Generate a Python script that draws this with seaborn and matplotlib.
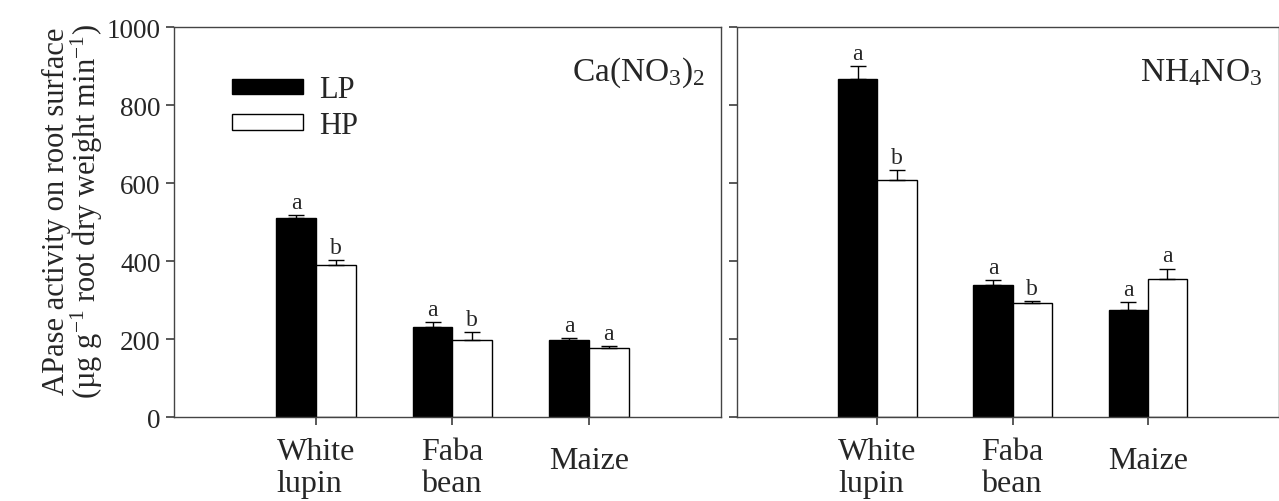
import numpy as np
import pandas as pd
import matplotlib
matplotlib.use("Agg")
import matplotlib.pyplot as plt
import matplotlib.transforms as mtransforms
import seaborn as sns
from matplotlib.patches import Patch

crops = ["White\nlupin", "Faba\nbean", "Maize"]
levels = ["LP", "HP"]

# Ca(NO3)2 panel
ca_lp = [510, 231, 198]
ca_hp = [390, 197, 177]
ca_lp_err = [8, 13, 5]
ca_hp_err = [13, 21, 5]
ca_lp_sig = ["a", "a", "a"]
ca_hp_sig = ["b", "b", "a"]

# NH4NO3 panel
nh_lp = [867, 339, 275]
nh_hp = [608, 292, 355]
nh_lp_err = [33, 12, 20]
nh_hp_err = [26, 6, 26]
nh_lp_sig = ["a", "a", "a"]
nh_hp_sig = ["b", "b", "a"]

sns.set_theme(style="ticks")
plt.rcParams['font.family'] = ['Liberation Serif', 'DejaVu Serif']
plt.rcParams['mathtext.fontset'] = 'custom'
plt.rcParams['mathtext.rm'] = 'Liberation Serif'
plt.rcParams['mathtext.it'] = 'Liberation Serif:italic'
plt.rcParams['axes.linewidth'] = 1.0

fig = plt.figure(figsize=(12.79, 5.02), dpi=100)
ax1 = fig.add_axes([0.136, 0.167, 0.428, 0.777])
ax2 = fig.add_axes([0.576, 0.167, 0.424, 0.777])


def draw_panel(ax, lp, hp, lp_err, hp_err, lp_sig, hp_sig, title):
    df = pd.DataFrame({
        "crop": crops * 2,
        "level": ["LP"] * 3 + ["HP"] * 3,
        "value": lp + hp,
        "err": lp_err + hp_err,
        "sig": lp_sig + hp_sig,
    })
    sns.barplot(data=df, x="crop", y="value", hue="level", hue_order=levels,
                palette={"LP": "black", "HP": "white"}, edgecolor="black",
                linewidth=1.0, width=0.58, gap=0, errorbar=None, ax=ax,
                legend=False, saturation=1)
    # bars come in hue order: LP for every crop, then HP
    for patch, (_, row) in zip(ax.patches, df.iterrows()):
        xc = patch.get_x() + patch.get_width() / 2
        ax.errorbar(xc, row["value"], yerr=[[0], [row["err"]]], fmt="none",
                    ecolor="black", elinewidth=1.0, capsize=5.5, capthick=1.0)
        ax.text(xc, row["value"] + row["err"] + 6, row["sig"], ha="center",
                va="bottom", fontsize=17)
    ax.set_xlim(-1.04, 2.97)
    ax.set_ylim(0, 1000)
    ax.set_yticks([0, 200, 400, 600, 800, 1000])
    ax.set_xlabel("")
    ax.set_ylabel("")
    ax.tick_params(axis="x", labelsize=23, length=6, direction="out", pad=8,
                   color="#444444")
    ax.tick_params(axis="y", labelsize=19.5, length=6, direction="out",
                   color="#444444")
    for lab in ax.get_xticklabels():
        lab.set_multialignment("left")
        lab.set_linespacing(1.15)
        if "\n" not in lab.get_text():
            lab.set_transform(lab.get_transform() + mtransforms.ScaledTranslation(
                0, -9 / 100, fig.dpi_scale_trans))
    for s in ax.spines.values():
        s.set_visible(True)
        s.set_color("#444444")
    ax.text(0.97, 0.885, title, transform=ax.transAxes, ha="right",
            va="center", fontsize=24)


draw_panel(ax1, ca_lp, ca_hp, ca_lp_err, ca_hp_err, ca_lp_sig, ca_hp_sig,
           r"Ca(NO$_3$)$_2$")
draw_panel(ax2, nh_lp, nh_hp, nh_lp_err, nh_hp_err, nh_lp_sig, nh_hp_sig,
           r"NH$_4$NO$_3$")
ax2.set_yticklabels([])

ax1.set_ylabel("APase activity on root surface\n"
               "(µg g$^{-1}$ root dry weight min$^{-1}$)",
               fontsize=22, linespacing=0.93)
ax1.yaxis.set_label_coords(-0.126, 0.53)

handles = [Patch(facecolor="black", edgecolor="black", label="LP"),
           Patch(facecolor="white", edgecolor="black", label="HP")]
ax1.legend(handles=handles, loc="upper left", bbox_to_anchor=(0.083, 0.908),
           frameon=False, fontsize=22, handlelength=2.35, handleheight=0.4,
           labelspacing=0.22, handletextpad=0.5, borderaxespad=0)

fig.savefig("out.png", dpi=100)
